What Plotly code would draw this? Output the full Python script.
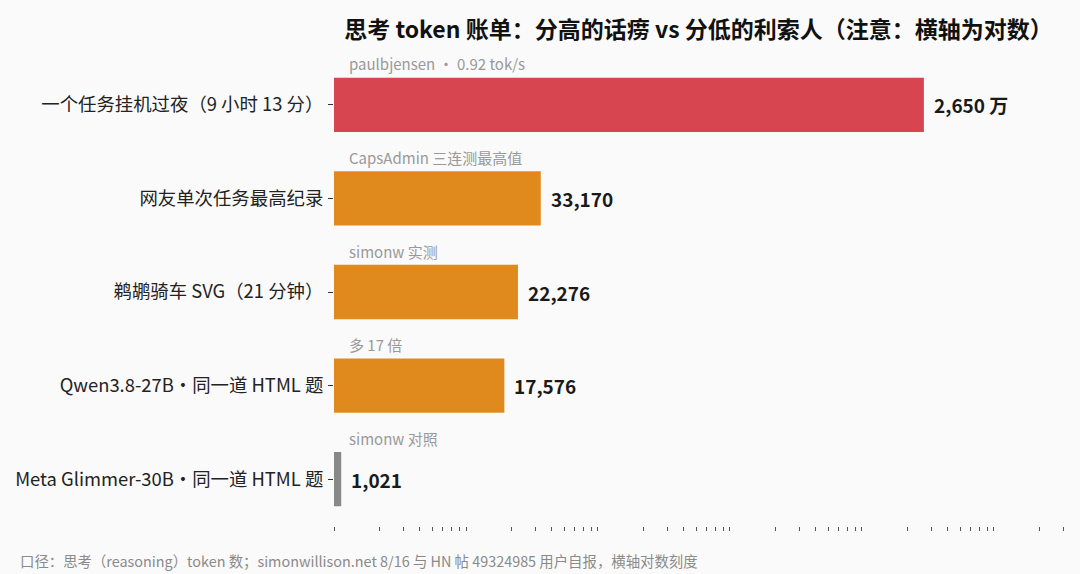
import math
import plotly.graph_objects as go

# ---- data ----
categories = [
    "一个任务挂机过夜（9 小时 13 分）",
    "网友单次任务最高纪录",
    "鹈鹕骑车 SVG（21 分钟）",
    "Qwen3.8-27B・同一道 HTML 题",
    "Meta Glimmer-30B・同一道 HTML 题",
]
values = [26500000, 33170, 22276, 17576, 1021]
value_labels = ["2,650 万", "33,170", "22,276", "17,576", "1,021"]
notes = [
    "paulbjensen • 0.92 tok/s",
    "CapsAdmin 三连测最高值",
    "simonw 实测",
    "多 17 倍",
    "simonw 对照",
]
bar_colors = ["#d64550", "#e08a1e", "#e08a1e", "#e08a1e", "#888888"]

tick_mantissas = [2, 3, 4, 5, 6, 7, 8, 9]
tick_decades = [1e3, 1e4, 1e5, 1e6, 1e7]
x_min, x_max = 900, 3e8

title = "思考 token 账单：分高的话痨 vs 分低的利索人（注意：横轴为对数）"
footer = "口径：思考（reasoning）token 数；simonwillison.net 8/16 与 HN 帖 49324985 用户自报，横轴对数刻度"

tickvals = [x_min] + [m * d for d in tick_decades for m in tick_mantissas] + [2e8, 3e8]

FONT = "Noto Sans CJK SC"

fig = go.Figure(
    go.Bar(
        x=values,
        y=categories,
        orientation="h",
        marker=dict(color=bar_colors, line=dict(width=0)),
        width=0.58,
        hoverinfo="skip",
    )
)

annotations = []
for cat, v, lab, note in zip(categories, values, value_labels, notes):
    annotations.append(dict(
        x=math.log10(v), y=cat, xref="x", yref="y",
        text=f"<b>{lab}</b>", showarrow=False, xanchor="left", yanchor="middle",
        xshift=8, font=dict(family=FONT, size=19, color="#1a1a1a"),
    ))
    annotations.append(dict(
        x=0, y=cat, xref="paper", yref="y",
        text=note, showarrow=False, xanchor="left", yanchor="middle",
        xshift=13, yshift=41, font=dict(family=FONT, size=15, color="#999999"),
    ))

annotations.append(dict(
    x=-0.433, y=-0.073, xref="paper", yref="paper",
    text=footer, showarrow=False, xanchor="left", yanchor="middle",
    font=dict(family=FONT, size=14.4, color="#8a8a8a"),
))

fig.update_layout(
    width=1080, height=574,
    margin=dict(l=334, r=17, t=58, b=48),
    paper_bgcolor="#fafafa", plot_bgcolor="#fafafa",
    font=dict(family=FONT, color="#222222"),
    showlegend=False,
    title=dict(
        text=f"<b>{title}</b>", x=0.5, xref="paper", xanchor="center",
        y=1 - 30 / 574, yref="container", yanchor="middle",
        font=dict(family=FONT, size=23, color="#111111"),
    ),
    xaxis=dict(
        type="log", range=[math.log10(x_min), math.log10(x_max)],
        tickmode="array", tickvals=tickvals, showticklabels=False,
        ticks="outside", ticklen=4, tickwidth=1, tickcolor="#555555",
        showgrid=False, zeroline=False, showline=False,
    ),
    yaxis=dict(
        range=[len(categories) - 0.5, -0.5], ticks="outside", ticklen=5, tickwidth=1,
        tickcolor="#333333", showgrid=False, zeroline=False, showline=False,
        tickfont=dict(family=FONT, size=18.4, color="#222222"),
        ticklabelstandoff=1,
    ),
    annotations=annotations,
)

fig.write_html(
    "out.html",
    config={"displayModeBar": False, "staticPlot": True},
    post_script="document.body.style.margin='0';document.body.style.padding='0';document.body.style.overflow='hidden';",
)
